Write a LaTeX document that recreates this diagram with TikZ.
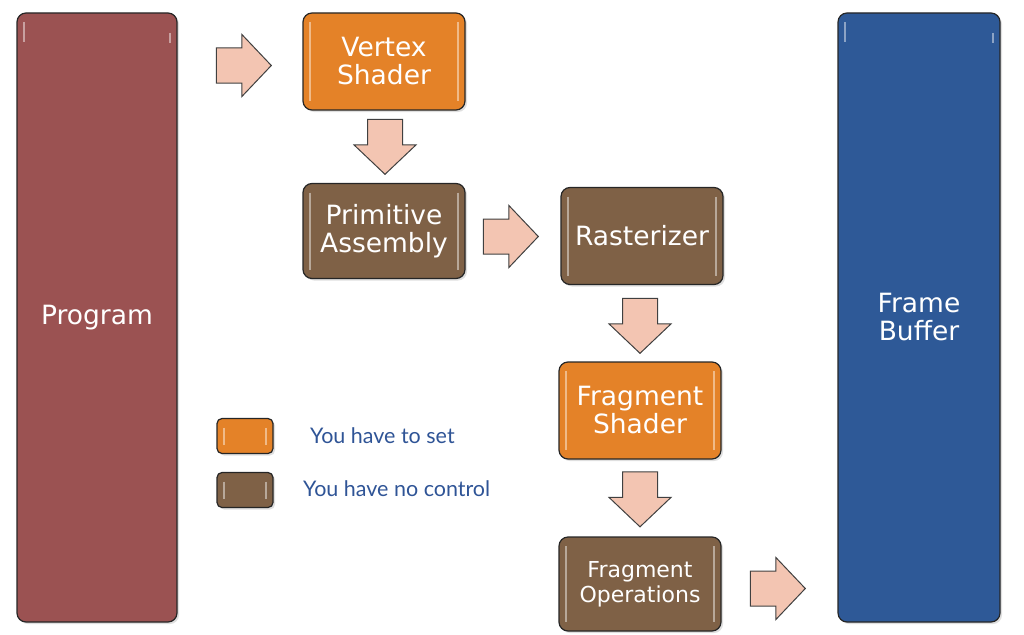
\documentclass[tikz,border=0pt]{standalone}
\usepackage{fontspec}
\setmainfont{DejaVu Sans}
\newfontfamily\legendfont{Lato}
\usetikzlibrary{shapes.arrows,shadows}
\definecolor{progred}{RGB}{155,82,82}
\definecolor{fbblue}{RGB}{46,89,151}
\definecolor{setorange}{RGB}{228,130,40}
\definecolor{fixbrown}{RGB}{127,97,70}
\definecolor{arrowpeach}{RGB}{243,197,178}
\definecolor{legendblue}{RGB}{47,84,150}

\begin{document}
\begin{tikzpicture}[x=1pt,y=-1pt,
  stage/.style={draw=black!85,line width=1.2pt,rounded corners=9pt,text=white,align=center,
    inner sep=0pt,minimum width=162pt,minimum height=97pt,font=\fontsize{26.5}{28}\selectfont,
    drop shadow={opacity=0.25,shadow xshift=2pt,shadow yshift=-2pt},
    path picture={
      \draw[white,opacity=0.45,line width=2pt]
        ([xshift=7pt,yshift=-9pt]path picture bounding box.north west) -- ([xshift=7pt,yshift=9pt]path picture bounding box.south west)
        ([xshift=-7pt,yshift=-9pt]path picture bounding box.north east) -- ([xshift=-7pt,yshift=9pt]path picture bounding box.south east);
    }},
  tallstage/.style={stage,minimum height=609pt,
    path picture={
      \draw[white,opacity=0.45,line width=2pt]
        ([xshift=7pt,yshift=-9pt]path picture bounding box.north west) -- ++(0,-20pt)
        ([xshift=-7pt,yshift=-20pt]path picture bounding box.north east) -- ++(0,-10pt);
    }},
  flow/.style={single arrow,draw=black!75,line width=1pt,fill=arrowpeach,inner xsep=0pt,inner ysep=17pt,
    minimum height=55pt,minimum width=61pt,single arrow head extend=13.5pt,single arrow tip angle=93},
  flowdown/.style={flow,rotate=-90},
  keybox/.style={stage,minimum width=56pt,minimum height=35pt,rounded corners=5pt},
  legend/.style={text=legendblue,font=\legendfont\fontsize{21.5}{24}\selectfont,inner sep=0pt,anchor=west}]
\useasboundingbox (0,0) rectangle (1024,634);
\node[tallstage,fill=progred,minimum width=160pt] (program) at (97,317.5) {Program};
\node[tallstage,fill=fbblue] (framebuf) at (919,317.5) {Frame\\Buffer};
\node[stage,fill=setorange] (vertex) at (384,61.5) {Vertex\\Shader};
\node[stage,fill=fixbrown,minimum height=95pt] (primitive) at (384,231) {Primitive\\Assembly};
\node[stage,fill=fixbrown] (raster) at (642,236) {Rasterizer};
\node[stage,fill=setorange] (fragshader) at (640,410.5) {Fragment\\Shader};
\node[stage,fill=fixbrown,minimum height=94pt,font=\fontsize{22}{25}\selectfont] (fragops) at (640,584) {Fragment\\Operations};
\node[flow] (toVertex) at (235.5,65.5) {};
\node[flowdown] (toPrimitive) at (385,138.5) {};
\node[flow] (toRaster) at (502.5,236.5) {};
\node[flowdown] (toFragShader) at (640,317.5) {};
\node[flowdown] (toFragOps) at (640,491) {};
\node[flow] (toFrameBuf) at (769.5,588.5) {};
\node[keybox,fill=setorange] (keyset) at (245,436) {};
\node[keybox,fill=fixbrown] (keyfix) at (245,490) {};
\node[legend] (keysettext) at (310,436) {You have to set};
\node[legend] (keyfixtext) at (303,489) {You have no control};
\end{tikzpicture}
\end{document}
